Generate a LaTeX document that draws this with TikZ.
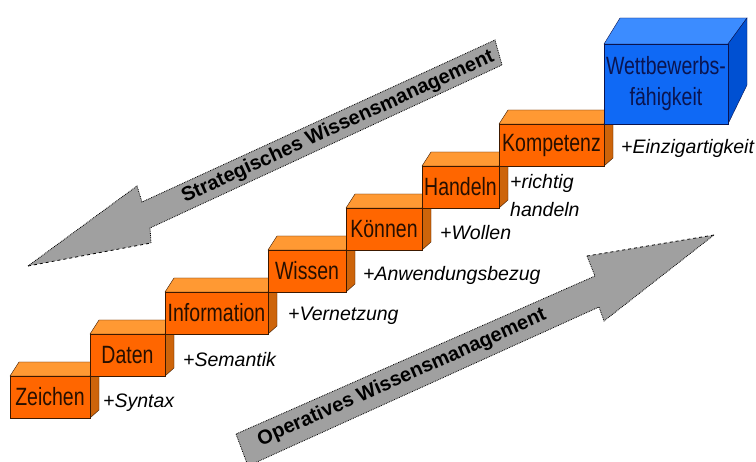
\documentclass[tikz,border=0pt]{standalone}
\usepackage{fontspec}
\setmainfont{Liberation Sans}
\usepackage{graphicx}
\usetikzlibrary{positioning,calc,backgrounds}

\definecolor{orangevorn}{RGB}{255,102,0}
\definecolor{orangeoben}{RGB}{255,153,51}
\definecolor{orangeseite}{RGB}{205,100,10}
\definecolor{blauvorn}{RGB}{15,105,245}
\definecolor{blauoben}{RGB}{60,140,255}
\definecolor{blauseite}{RGB}{0,80,210}
\definecolor{kante}{RGB}{60,25,0}
\definecolor{blaukante}{RGB}{10,20,80}
\definecolor{pfeilgrau}{RGB}{160,160,160}

\newcommand{\schmal}[1]{\scalebox{0.78}[1]{#1}}

\tikzset{
  stufe/.style={draw=kante, fill=orangevorn, minimum height=42pt, inner sep=1pt,
                outer sep=0pt, font=\fontsize{25}{31}\selectfont,
                text=black!85!orangevorn},
  zusatz/.style={anchor=west, inner sep=0pt, font=\fontsize{19.5}{28}\selectfont\itshape},
  pfeilrand/.style={draw=black, densely dotted, line width=0.8pt},
  pfeiltext/.style={inner sep=0pt, font=\fontsize{20}{24}\selectfont\bfseries}
}

\begin{document}
\begin{tikzpicture}[x=1pt, y=-1pt]
  \useasboundingbox (0,0) rectangle (756,462);

  % strategisches WM, pfeil nach links unten
  \fill[pfeilgrau] (28,266) -- (137,186) -- (142,202) -- (495,40) -- (502,65)
    -- (150,228) -- (151,243) -- cycle;
  \draw[pfeilrand] (151,243) -- (150,228) -- (502,65) -- (495,40) -- (142,202)
    -- (137,186) -- (28,266);
  \draw[pfeilrand, dashed] (28,266) -- (151,243);
  \node[pfeiltext, rotate=24.6] (strategisch) at (338,127) {Strategisches Wissensmanagement};

  % operatives WM, pfeil nach rechts oben
  \fill[pfeilgrau] (714,235) -- (587,256) -- (595,276) -- (236,434) -- (248,466)
    -- (599,307) -- (604,321) -- cycle;
  \draw[pfeilrand] (587,256) -- (595,276) -- (236,434) -- (248,466) -- (599,307)
    -- (604,321) -- (714,235);
  \draw[pfeilrand, dashed] (714,235) -- (587,256);
  \node[pfeiltext, rotate=23.9] (operativ) at (402,378) {Operatives Wissensmanagement};

  % treppe
  \node[stufe, minimum width=80pt, anchor=south west] (zeichen) at (10,418) {\schmal{Zeichen}};
  \node[stufe, minimum width=75pt, above right=0pt and 0pt of zeichen.north east] (daten) {\schmal{Daten}};
  \node[stufe, minimum width=103pt, above right=0pt and 0pt of daten.north east] (information) {\schmal{Information}};
  \node[stufe, minimum width=78pt, above right=0pt and 0pt of information.north east] (wissen) {\schmal{Wissen}};
  \node[stufe, minimum width=76pt, above right=0pt and 0pt of wissen.north east] (koennen) {\schmal{Können}};
  \node[stufe, minimum width=77pt, above right=0pt and 0pt of koennen.north east] (handeln) {\schmal{Handeln}};
  \node[stufe, minimum width=105pt, above right=0pt and 0pt of handeln.north east] (kompetenz) {\schmal{Kompetenz}};
  \node[stufe, draw=blaukante, fill=blauvorn, text=blaukante, minimum width=124pt,
        minimum height=80pt, align=center, above right=0pt and 0pt of kompetenz.north east]
        (wettbewerb) {\schmal{Wettbewerbs-}\\\schmal{fähigkeit}};

  \node[zusatz] (syntax) at (103,403) {+Syntax};
  \node[zusatz] (semantik) at (183,360) {+Semantik};
  \node[zusatz] (vernetzung) at (288,316) {+Vernetzung};
  \node[zusatz] (anwendung) at (363,275) {+Anwendungsbezug};
  \node[zusatz] (wollen) at (440,233) {+Wollen};
  \node[zusatz, align=left] (richtig) at (510,196) {+richtig\\handeln};
  \node[zusatz] (einzigartig) at (621,148) {+Einzigartigkeit};

  \begin{scope}[on background layer]
    \fill[white] (0,0) rectangle (756,462);
    \foreach \n in {zeichen,daten,information,wissen,koennen,handeln,kompetenz}{
      \draw[draw=kante, fill=orangeoben] (\n.north west) -- ++(9,-14)
        -- ($(\n.north east)+(9,-14)$) -- (\n.north east) -- cycle;
      \draw[draw=kante, fill=orangeseite] (\n.north east) -- ++(9,-14)
        -- ($(\n.south east)+(9,-8)$) -- (\n.south east) -- cycle;
    }
    \draw[draw=blaukante, fill=blauoben] (wettbewerb.north west) -- ++(16,-26)
      -- ($(wettbewerb.north east)+(19,-26)$) -- (wettbewerb.north east) -- cycle;
    \draw[draw=blaukante, fill=blauseite] (wettbewerb.north east) -- ++(19,-26)
      -- ($(wettbewerb.south east)+(19,-39)$) -- (wettbewerb.south east) -- cycle;
  \end{scope}
\end{tikzpicture}
\end{document}
